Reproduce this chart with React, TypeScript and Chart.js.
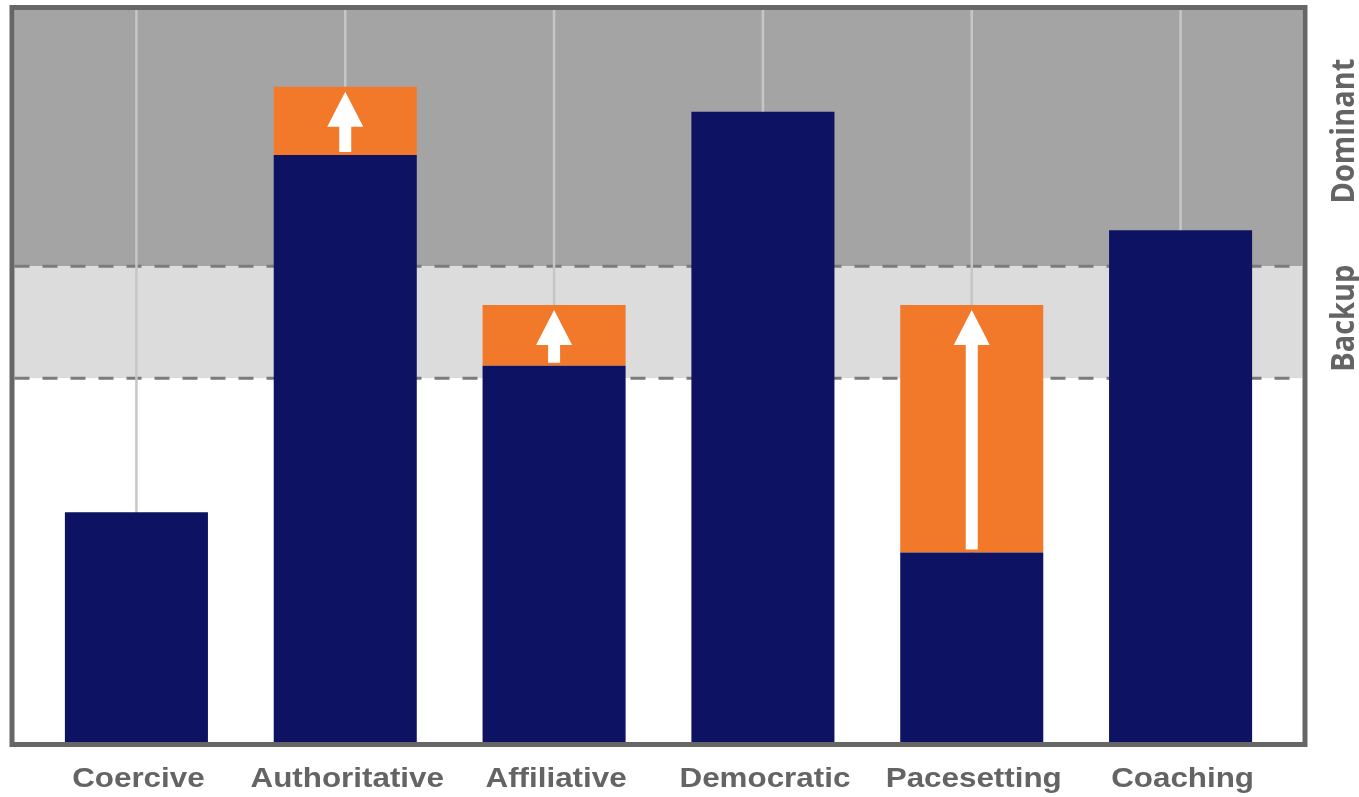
import { useEffect, useRef } from 'react';
import { Chart, registerables } from 'chart.js';

Chart.register(...registerables);

// Leadership styles shown along the x axis
const categories = ['Coercive', 'Authoritative', 'Affiliative', 'Democratic', 'Pacesetting', 'Coaching'];
// Current score for each style
const currentLevels = [31.4, 80.2, 51.4, 86.1, 25.9, 69.9];
// Targeted increase on top of the current score (null = no change)
const targetGains: (number | null)[] = [null, 9.3, 8.3, null, 33.8, null];
// Zones on the right-hand side and their lower bounds
const zoneNames = ['Dominant', 'Backup'];
const zoneLowerBounds = [65, 49.7];
const yMin = 0;
const yMax = 100;

const NAVY = '#0d1263';
const ORANGE = '#f2792a';
const TEXT = '#646464';

const zonesPlugin = {
  id: 'zones',
  beforeDatasetsDraw(chart: any) {
    const { ctx, chartArea: a, scales } = chart;
    const x = scales.x;
    const y = scales.y;
    const left = a.left - 17.5;
    const right = a.right + 17.5;
    const yDom = y.getPixelForValue(zoneLowerBounds[0]);
    const yBack = y.getPixelForValue(zoneLowerBounds[1]);
    ctx.save();
    ctx.fillStyle = '#a4a4a4';
    ctx.fillRect(left, a.top, right - left, yDom - a.top);
    ctx.fillStyle = '#dcdcdc';
    ctx.fillRect(left, yDom, right - left, yBack - yDom);

    ctx.strokeStyle = '#7b7b7b';
    ctx.lineWidth = 3;
    ctx.setLineDash([15, 13]);
    for (const yy of [yDom, yBack]) {
      ctx.beginPath();
      ctx.moveTo(left, yy);
      ctx.lineTo(right, yy);
      ctx.stroke();
    }
    ctx.setLineDash([]);

    ctx.strokeStyle = '#c6c6c6';
    ctx.lineWidth = 2.5;
    categories.forEach((_, i) => {
      const px = x.getPixelForValue(i);
      ctx.beginPath();
      ctx.moveTo(px, a.top);
      ctx.lineTo(px, a.bottom);
      ctx.stroke();
    });
    ctx.restore();
  },
  afterDatasetsDraw(chart: any) {
    const { ctx, scales } = chart;
    const y = scales.y;
    const meta = chart.getDatasetMeta(1);
    const headH = 35;
    const headW = 36;
    const shaftW = 12;
    ctx.save();
    ctx.fillStyle = '#ffffff';
    targetGains.forEach((g, i) => {
      if (!g) return;
      const cx = meta.data[i].x;
      const yStart = y.getPixelForValue(currentLevels[i]) - 3;
      const yTip = y.getPixelForValue(currentLevels[i] + g) + 5;
      ctx.beginPath();
      ctx.moveTo(cx - shaftW / 2, yStart);
      ctx.lineTo(cx - shaftW / 2, yTip + headH);
      ctx.lineTo(cx - headW / 2, yTip + headH);
      ctx.lineTo(cx, yTip);
      ctx.lineTo(cx + headW / 2, yTip + headH);
      ctx.lineTo(cx + shaftW / 2, yTip + headH);
      ctx.lineTo(cx + shaftW / 2, yStart);
      ctx.closePath();
      ctx.fill();
    });
    ctx.restore();
  },
  afterDraw(chart: any) {
    const { ctx, chartArea: a, scales } = chart;
    const x = scales.x;
    const y = scales.y;
    const left = a.left - 17.5;
    const right = a.right + 17.5;
    ctx.save();
    // frame
    ctx.strokeStyle = '#666666';
    ctx.lineWidth = 5;
    ctx.strokeRect(left - 2.5, a.top - 2.5, right - left + 5, a.bottom - a.top + 5);

    // category labels
    ctx.fillStyle = TEXT;
    ctx.font = 'bold 28px "Liberation Sans", Arial, sans-serif';
    ctx.textAlign = 'center';
    ctx.textBaseline = 'alphabetic';
    categories.forEach((label, i) => {
      const px = x.getPixelForValue(i) + 2;
      ctx.save();
      ctx.translate(px, a.bottom + 45);
      ctx.scale(1.12, 1);
      ctx.fillText(label, 0, 0);
      ctx.restore();
    });

    // zone labels on the right
    const yDom = y.getPixelForValue(zoneLowerBounds[0]);
    const yBack = y.getPixelForValue(zoneLowerBounds[1]);
    const centers = [(a.top + yDom) / 2 - 7, (yDom + yBack) / 2 - 4];
    ctx.font = 'bold 29px "Open Sans", "Noto Sans", sans-serif';
    zoneNames.forEach((name, i) => {
      ctx.save();
      ctx.translate(right + 51, centers[i]);
      ctx.rotate(-Math.PI / 2);
      ctx.scale(1, 1.12);
      ctx.fillText(name, 0, 0);
      ctx.restore();
    });
    ctx.restore();
  },
};

export default function App() {
  const canvasRef = useRef<HTMLCanvasElement | null>(null);

  useEffect(() => {
    const canvas = canvasRef.current;
    if (!canvas) return;
    const chart = new Chart(canvas, {
      type: 'bar',
      data: {
        labels: categories,
        datasets: [
          {
            label: 'Current',
            data: currentLevels,
            backgroundColor: NAVY,
            borderWidth: 0,
            barPercentage: 0.685,
            categoryPercentage: 1,
          },
          {
            label: 'Target',
            data: targetGains,
            backgroundColor: ORANGE,
            borderWidth: 0,
            barPercentage: 0.685,
            categoryPercentage: 1,
          },
        ],
      },
      options: {
        animation: false,
        responsive: false,
        devicePixelRatio: 1,
        layout: { padding: { left: 32, right: 74, top: 10, bottom: 55 } },
        plugins: {
          legend: { display: false },
          tooltip: { enabled: false },
        },
        scales: {
          x: { display: false, stacked: true, offset: true },
          y: { display: false, stacked: true, min: yMin, max: yMax },
        },
      },
      plugins: [zonesPlugin],
    });
    return () => chart.destroy();
  }, []);

  return (
    <div style={{ position: 'fixed', left: 0, top: 0, width: 1359, height: 797, background: '#ffffff' }}>
      <canvas ref={canvasRef} width={1359} height={797} style={{ display: 'block' }} />
    </div>
  );
}
